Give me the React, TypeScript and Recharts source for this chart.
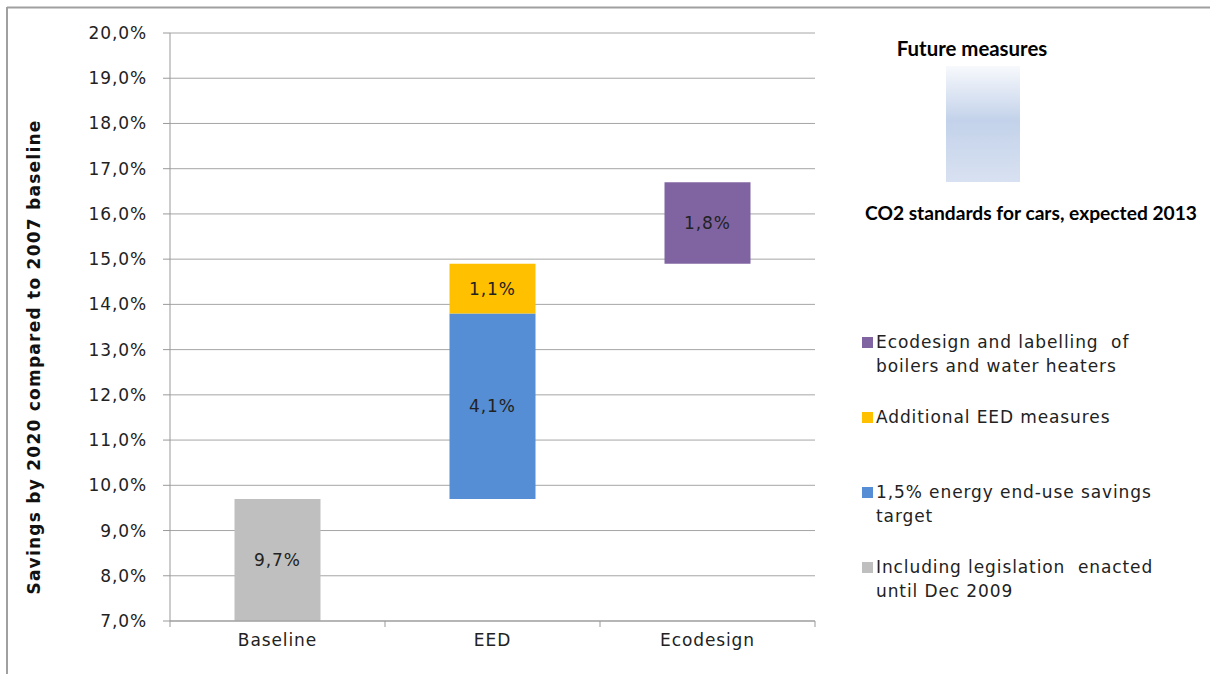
import { BarChart, Bar, XAxis, YAxis, CartesianGrid, LabelList } from 'recharts';

// categories and the savings segments (percentage points)
const categories = ['Baseline', 'EED', 'Ecodesign'];
const legislation = [9.7, 0, 0];
const eedTarget = [0, 4.1, 0];
const additionalEed = [0, 1.1, 0];
const ecodesignBoilers = [0, 0, 1.8];
const yTicks = [7, 8, 9, 10, 11, 12, 13, 14, 15, 16, 17, 18, 19, 20];

const legendItems = [
  { color: '#8064a2', lines: ['Ecodesign and labelling  of', 'boilers and water heaters'], y: 342 },
  { color: '#ffc000', lines: ['Additional EED measures'], y: 417 },
  { color: '#558ed5', lines: ['1,5% energy end-use savings', 'target'], y: 492 },
  { color: '#bfbfbf', lines: ['Including legislation  enacted', 'until Dec 2009'], y: 567 },
];

// invisible base so each step starts where the previous one ended
const data = categories.map((name, i) => {
  const base =
    i === 0
      ? 0
      : i === 1
      ? legislation[0]
      : legislation[0] + eedTarget[1] + additionalEed[1];
  return {
    name,
    base,
    legislation: legislation[i],
    eedTarget: eedTarget[i],
    additionalEed: additionalEed[i],
    ecodesignBoilers: ecodesignBoilers[i],
  };
});

const FONT = '"DejaVu Sans", Verdana, sans-serif';
const TITLE_FONT = 'Lato, "Open Sans", sans-serif';
const SPACING = 0.9;
const fmt = (v: number) => v.toFixed(1).replace('.', ',') + '%';
const HALF_BAND = 215 / 2;

const SegmentLabel = (props: any) => {
  const { x, y, width, height, value } = props;
  if (!value) return null;
  return (
    <text
      x={x + width / 2}
      y={y + height / 2}
      textAnchor='middle'
      dominantBaseline='central'
      fontFamily={FONT}
      fontSize={17}
      letterSpacing={SPACING}
      fill='#222'
    >
      {fmt(value)}
    </text>
  );
};

const CategoryTick = (props: any) => {
  const { x, y, payload, index } = props;
  const last = index === categories.length - 1;
  return (
    <g>
      <line x1={x - HALF_BAND} x2={x - HALF_BAND} y1={y - 8} y2={y - 2} stroke='#999' />
      {last && <line x1={x + HALF_BAND} x2={x + HALF_BAND} y1={y - 8} y2={y - 2} stroke='#999' />}
      <text
        x={x}
        y={y + 17}
        textAnchor='middle'
        fontFamily={FONT}
        fontSize={17}
        letterSpacing={SPACING}
        fill='#222'
      >
        {payload.value}
      </text>
    </g>
  );
};

const App = () => {
  return (
    <div style={{ position: 'absolute', left: 0, top: 0, width: 1210, height: 674, background: '#fff' }}>
      <BarChart
        width={1210}
        height={674}
        data={data}
        margin={{ top: 33, right: 395, left: 70, bottom: 23 }}
        barCategoryGap='30%'
      >
        <CartesianGrid vertical={false} stroke='#a6a6a6' />
        <XAxis
          dataKey='name'
          height={30}
          stroke='#999'
          tickLine={false}
          tick={<CategoryTick />}
        />
        <YAxis
          width={100}
          domain={[7, 20]}
          ticks={yTicks}
          allowDataOverflow
          stroke='#999'
          tickSize={7}
          tickMargin={16}
          tickFormatter={fmt}
          tick={{ fontFamily: FONT, fontSize: 17, fill: '#222', letterSpacing: SPACING }}
        />
        <Bar dataKey='base' stackId='s' fill='transparent' isAnimationActive={false} />
        <Bar dataKey='legislation' stackId='s' fill='#bfbfbf' isAnimationActive={false}>
          <LabelList dataKey='legislation' content={<SegmentLabel />} />
        </Bar>
        <Bar dataKey='eedTarget' stackId='s' fill='#558ed5' isAnimationActive={false}>
          <LabelList dataKey='eedTarget' content={<SegmentLabel />} />
        </Bar>
        <Bar dataKey='additionalEed' stackId='s' fill='#ffc000' isAnimationActive={false}>
          <LabelList dataKey='additionalEed' content={<SegmentLabel />} />
        </Bar>
        <Bar dataKey='ecodesignBoilers' stackId='s' fill='#8064a2' isAnimationActive={false}>
          <LabelList dataKey='ecodesignBoilers' content={<SegmentLabel />} />
        </Bar>
      </BarChart>

      <svg width={1210} height={674} style={{ position: 'absolute', left: 0, top: 0, pointerEvents: 'none' }}>
        <defs>
          <linearGradient id='future' x1='0' y1='0' x2='0' y2='1'>
            <stop offset='0%' stopColor='#f7f9fc' />
            <stop offset='47%' stopColor='#c3d2ea' />
            <stop offset='100%' stopColor='#d8e1f1' />
          </linearGradient>
        </defs>
        <line x1={7} y1={7.5} x2={1210} y2={7.5} stroke='#a0a0a0' strokeWidth={2} />
        <line x1={7} y1={7} x2={7} y2={674} stroke='#a0a0a0' strokeWidth={2} />
        <text
          transform='translate(40 357) rotate(-90)'
          textAnchor='middle'
          fontFamily={FONT}
          fontWeight='bold'
          fontSize={17}
          letterSpacing={1.25}
          fill='#111'
        >
          Savings by 2020 compared to 2007 baseline
        </text>
        <text x={972} y={56} textAnchor='middle' fontFamily={TITLE_FONT} fontWeight='bold' fontSize={20.4} fill='#000'>
          Future measures
        </text>
        <rect x={946} y={66} width={74} height={116} fill='url(#future)' />
        <text x={1031} y={220} textAnchor='middle' fontFamily={TITLE_FONT} fontWeight='bold' fontSize={19.2} fill='#000'>
          CO2 standards for cars, expected 2013
        </text>
        {legendItems.map((item) => (
          <g key={item.color}>
            <rect x={862} y={item.y - 5} width={11} height={11} fill={item.color} />
            {item.lines.map((line, j) => (
              <text
                key={j}
                x={876}
                y={item.y + j * 24}
                dominantBaseline='central'
                fontFamily={FONT}
                fontSize={17}
                letterSpacing={SPACING}
                fill='#222'
                style={{ whiteSpace: 'pre' }}
              >
                {line}
              </text>
            ))}
          </g>
        ))}
      </svg>
    </div>
  );
};

export default App;
